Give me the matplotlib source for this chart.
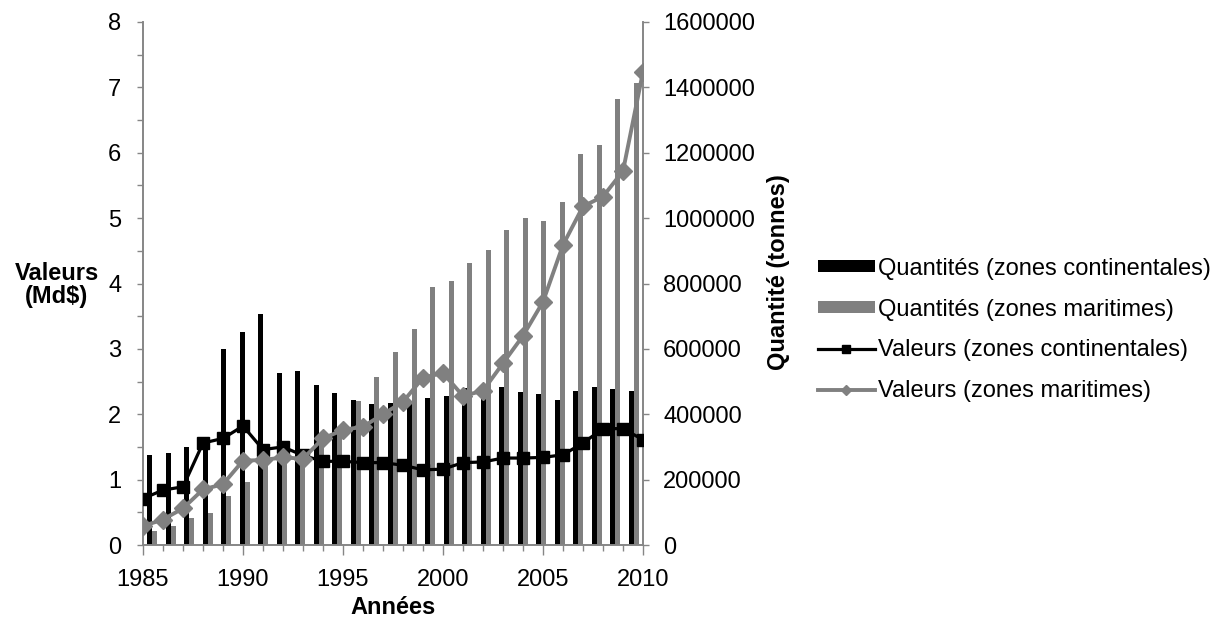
import numpy as np
import matplotlib
matplotlib.use("Agg")
import matplotlib.pyplot as plt
from matplotlib.ticker import MultipleLocator, FixedLocator

plt.rcParams['font.family'] = ['Liberation Sans', 'DejaVu Sans']

# ---- data ----
years = list(range(1985, 2011))
val_continental = [0.71, 0.84, 0.89, 1.56, 1.63, 1.82, 1.46, 1.50, 1.37, 1.28, 1.28, 1.26,
                   1.26, 1.22, 1.15, 1.16, 1.26, 1.27, 1.33, 1.33, 1.34, 1.38, 1.56, 1.78,
                   1.78, 1.61]
val_maritime = [0.29, 0.39, 0.56, 0.85, 0.93, 1.29, 1.30, 1.34, 1.32, 1.63, 1.76, 1.81,
                2.00, 2.19, 2.56, 2.63, 2.28, 2.36, 2.78, 3.20, 3.72, 4.59, 5.18, 5.33,
                5.72, 7.24]
# bar series (27 categories on the secondary category axis)
qty_continental = [275000, 280000, 299000, 310000, 600000, 652000, 707000, 526000, 531000,
                   491000, 464000, 443000, 432000, 435000, 438000, 449000, 456000, 479000,
                   462000, 483000, 467000, 461000, 443000, 471000, 483000, 476000, 471000]
qty_maritime = [43000, 59000, 84000, 99000, 150000, 194000, 258000, 265000, 272000,
                322000, 362000, 440000, 515000, 589000, 660000, 789000, 808000, 863000,
                904000, 965000, 1001000, 991000, 1049000, 1197000, 1224000, 1365000, 1412000]
x_major_ticks = [1985, 1990, 1995, 2000, 2005, 2010]
labels = ["Quantités (zones continentales)", "Quantités (zones maritimes)",
          "Valeurs (zones continentales)", "Valeurs (zones maritimes)"]

BLACK = "#000000"
GRAY = "#808080"
AXC = "#868686"
FS = 17

W, H = 1221, 622
fig = plt.figure(figsize=(W / 100, H / 100), dpi=100)
ax = fig.add_axes([143 / W, 1 - 545 / H, 500 / W, 523 / H])
ax2 = ax.twinx()
ax.set_zorder(ax2.get_zorder() + 1)
ax.patch.set_visible(False)

# bars on secondary axis: categories spread evenly over the year span
n = len(qty_continental)
span = years[-1] - years[0]
centers = years[0] + (np.arange(n) + 0.5) * span / n
bw = 0.25
b1 = ax2.bar(centers - bw / 2, qty_continental, width=bw, color=BLACK, linewidth=0)
b2 = ax2.bar(centers + bw / 2, qty_maritime, width=bw, color=GRAY, linewidth=0)

l1, = ax.plot(years, val_continental, color=BLACK, lw=2.3, marker='s', ms=9, zorder=3)
l2, = ax.plot(years, val_maritime, color=GRAY, lw=2.8, marker='D', ms=9, zorder=4)

ax.set_xlim(years[0], years[-1])
ax.set_ylim(0, 8)
ax2.set_ylim(0, 1600000)
ax.yaxis.set_major_locator(MultipleLocator(1))
ax.yaxis.set_minor_locator(MultipleLocator(0.5))
ax2.yaxis.set_major_locator(MultipleLocator(200000))
ax.xaxis.set_major_locator(FixedLocator(x_major_ticks))
ax.xaxis.set_minor_locator(FixedLocator(years))
ax2.yaxis.set_major_formatter(matplotlib.ticker.FuncFormatter(lambda v, p: f"{int(v)}"))

for a in (ax, ax2):
    for s in a.spines.values():
        s.set_color(AXC)
        s.set_linewidth(1.2)
    a.spines['top'].set_visible(False)

ax.tick_params(axis='y', which='both', direction='out', length=4.5, width=1, color=AXC,
               labelsize=FS, pad=11)
ax.tick_params(axis='x', which='major', direction='out', length=7, width=1, color=AXC,
               labelsize=FS, pad=10)
ax.tick_params(axis='x', which='minor', direction='out', length=4, width=1, color=AXC)
ax2.tick_params(axis='y', direction='out', length=4.5, width=1, color=AXC,
                labelsize=FS, pad=10)

fig.text(393 / W, 1 - 608 / H, "Années", ha='center', va='center', fontsize=FS,
         fontweight='bold')
fig.text(57 / W, 1 - 285 / H, "Valeurs\n(Md$)", ha='center', va='center', fontsize=FS,
         fontweight='bold', multialignment='center', linespacing=1.0)
fig.text(779 / W, 1 - 272 / H, "Quantité (tonnes)", ha='center', va='center', fontsize=FS,
         fontweight='bold', rotation=90)

ax.legend([b1, b2, l1, l2], labels, loc='center left',
          bbox_to_anchor=(818 / W, 1 - 330 / H), bbox_transform=fig.transFigure,
          frameon=False, borderpad=0, borderaxespad=0, fontsize=FS,
          handlelength=2.4, handleheight=0.42, handletextpad=0.15, labelspacing=0.8,
          markerscale=0.6)

fig.savefig("out.png", dpi=100)
